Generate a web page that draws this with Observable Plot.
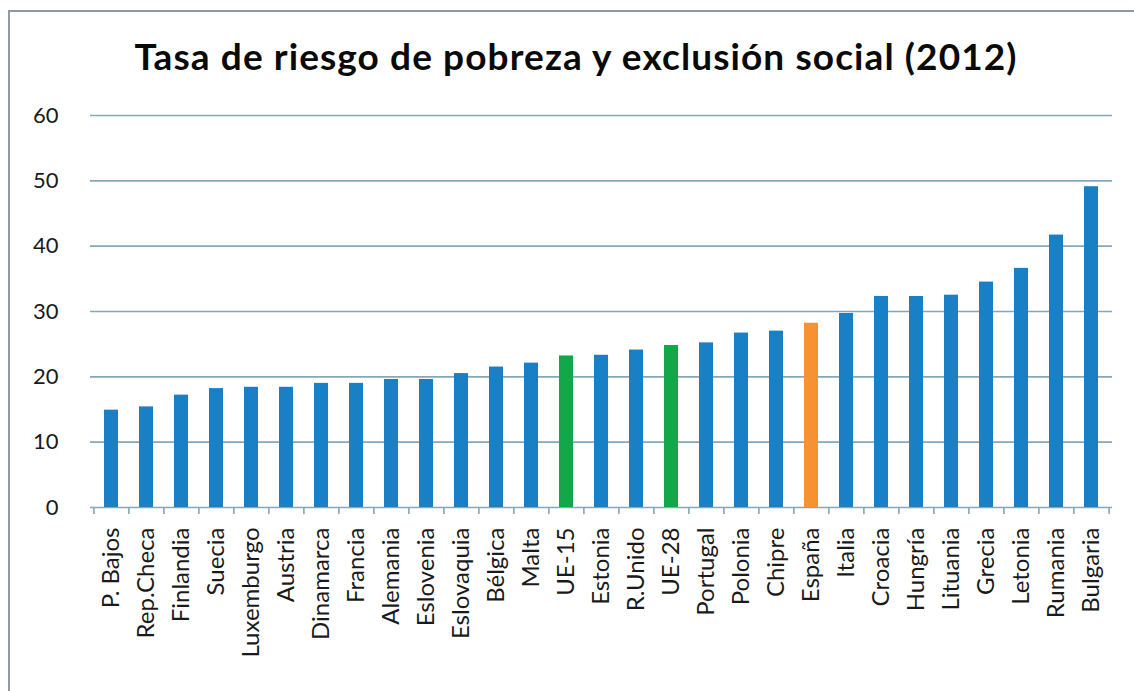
<!DOCTYPE html>
<html>
<head>
<meta charset="utf-8">
<script src="https://cdn.jsdelivr.net/npm/d3@7"></script>
<script src="https://cdn.jsdelivr.net/npm/@observablehq/plot@0.6"></script>
<style>
  html, body { margin: 0; padding: 0; background: #fff; overflow: hidden; }
  #frame { position: absolute; left: 8px; top: 10px; width: 1300px; height: 900px;
           border: 2px solid #8d9ba6; box-sizing: border-box; }
  #title { position: absolute; left: 0; top: 34px; width: 1152px; text-align: center;
           font-family: Lato, "Open Sans", sans-serif; font-weight: bold; font-size: 37px;
           letter-spacing: 1.1px; color: #0a0a0a; line-height: 44px; }
  #chart { position: absolute; left: 0; top: 100px; }
</style>
</head>
<body>
<div id="frame"></div>
<div id="title">Tasa de riesgo de pobreza y exclusión social (2012)</div>
<div id="chart"></div>
<script>
const categories = ["P. Bajos","Rep.Checa","Finlandia","Suecia","Luxemburgo","Austria","Dinamarca","Francia","Alemania","Eslovenia","Eslovaquia","Bélgica","Malta","UE-15","Estonia","R.Unido","UE-28","Portugal","Polonia","Chipre","España","Italia","Croacia","Hungría","Lituania","Grecia","Letonia","Rumania","Bulgaria"];
const values = [14.9,15.4,17.2,18.2,18.4,18.4,19.0,19.0,19.6,19.6,20.5,21.5,22.1,23.2,23.3,24.1,24.8,25.2,26.7,27.0,28.2,29.7,32.3,32.3,32.5,34.5,36.6,41.7,49.1];
const groups = ["país","país","país","país","país","país","país","país","país","país","país","país","país","UE","país","país","UE","país","país","país","España","país","país","país","país","país","país","país","país"];
const yTicks = [0,10,20,30,40,50,60];

const data = categories.map((c, i) => ({category: c, value: values[i], group: groups[i]}));

const W = 1134, H = 591, mL = 90, mR = 22, mT = 15, mB = 184;
const step = (W - mL - mR) / categories.length;

const plot = Plot.plot({
  width: W, height: H,
  marginLeft: mL, marginRight: mR, marginTop: mT, marginBottom: mB,
  style: {fontFamily: "Lato, 'Open Sans', sans-serif", fontSize: "22px", color: "#1a1a1a", background: "transparent"},
  x: {domain: categories, paddingInner: 0.59, paddingOuter: 0.295, label: null},
  y: {domain: [0, 60], label: null},
  color: {domain: ["país","UE","España"], range: ["#1a80c6","#12a84a","#f79233"]},
  marks: [
    Plot.ruleY(yTicks, {stroke: "#85a7b8", strokeWidth: 1.6}),
    Plot.barY(data, {x: "category", y: "value", fill: "group"}),
    Plot.ruleX(categories, {x: d => d, dx: -step / 2, y1: 0, y2: 0, insetBottom: -7, stroke: "#85a7b8", strokeWidth: 1.6}),
    Plot.ruleX(categories.slice(-1), {x: d => d, dx: step / 2, y1: 0, y2: 0, insetBottom: -7, stroke: "#85a7b8", strokeWidth: 1.6}),
    Plot.axisY({ticks: yTicks, tickSize: 0, tickPadding: 32, fontSize: 22, label: null}),
    Plot.axisX({tickSize: 0, tickPadding: 20, tickRotate: -90, fontSize: 24, label: null})
  ]
});
document.getElementById("chart").appendChild(plot);
</script>
</body>
</html>
